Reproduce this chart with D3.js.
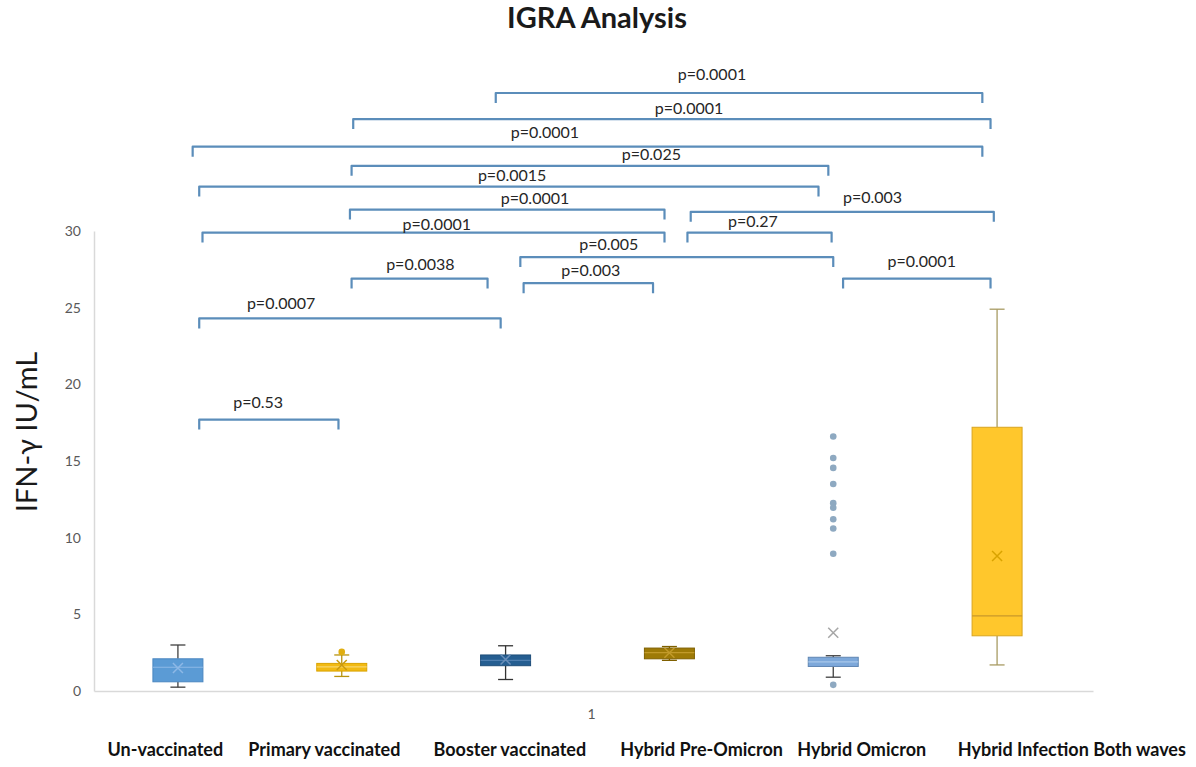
<!DOCTYPE html>
<html><head><meta charset="utf-8">
<script src="https://cdn.jsdelivr.net/npm/d3@7"></script>
<style>body{margin:0;background:#fff}svg{display:block}</style>
</head><body>
<svg id="c" width="1196" height="767"></svg>
<script>
// ---- data ----
const groups = ["Un-vaccinated","Primary vaccinated","Booster vaccinated","Hybrid Pre-Omicron","Hybrid Omicron","Hybrid Infection Both waves"];
const mins    = [0.25, 0.95, 0.75, 2.0, 0.9, 1.7];
const q1s     = [0.6, 1.3, 1.65, 2.1, 1.6, 3.6];
const medians = [1.55, 1.57, 2.0, 2.5, 1.9, 4.9];
const q3s     = [2.1, 1.8, 2.35, 2.8, 2.2, 17.2];
const maxs    = [3.0, 2.35, 2.95, 2.9, 2.3, 24.9];
const means   = [1.5, 1.7, 2.05, 2.5, 3.8, 8.8];
const outliers = [[], [2.55], [], [], [16.6, 15.2, 14.55, 13.5, 12.25, 11.95, 11.2, 10.6, 8.95, 0.4], []];
const yTicks = [0, 5, 10, 15, 20, 25, 30];
const categoryLabel = "1";
// significance brackets (ends in group-index units, level in IFN-γ units)
const bracketLabels = ["p=0.0001","p=0.0001","p=0.0001","p=0.025","p=0.0015","p=0.0001","p=0.003","p=0.0001","p=0.27","p=0.005","p=0.003","p=0.0038","p=0.0007","p=0.53","p=0.0001"];
const bracketFrom   = [1.94, 1.07, 0.09, 1.06, 0.13, 1.05, 3.13, 0.15, 3.11, 2.09, 2.11, 1.06, 0.13, 0.13, 4.06];
const bracketTo     = [4.91, 4.96, 4.91, 3.97, 3.91, 2.97, 4.98, 2.97, 3.99, 4.00, 2.90, 1.89, 1.97, 0.98, 4.96];
const bracketLevel  = [39.0, 37.3, 35.5, 34.25, 32.9, 31.4, 31.25, 29.9, 29.9, 28.3, 26.6, 26.9, 24.3, 17.7, 26.9];
const labelAt       = [3.26, 3.12, 2.24, 2.89, 2.04, 2.18, 4.24, 1.58, 3.51, 2.63, 2.52, 1.48, 0.63, 0.49, 4.54];
const labelLevel    = [40.1, 37.9, 36.3, 34.9, 33.5, 32.0, 32.1, 30.3, 30.5, 29.0, 27.3, 27.7, 25.2, 18.7, 27.9];
const groupLabelAt  = [-0.43, 0.43, 1.56, 2.7, 3.78, 4.76];

// ---- styles ----
const fills   = ["#5B9BD5","#F2BA12","#255E91","#9E7A06","#7DA8DA","#FFC72C"];
const strokes = ["#4A86C0","#D9A300","#1F4E79","#7F6000","#5F86B3","#D9A520"];
const whisk   = ["#404040","#B8930F","#333333","#7F6000","#404040","#A89B63"];
const medCol  = ["#8DB8E6","#F8D66A","#4F7FB0","#C29A2A","#A9C7EA","#C9982A"];
const meanCol = ["#8DB8E6","#C99A10","#6A8EB8","#C29A2A","#A6A6A6","#D9A300"];
const outCol  = ["#5B9BD5","#E0AE10","#255E91","#9E7A06","#8EA9C1","#FFC72C"];

const svg = d3.select("#c");
const font = "Lato, 'Open Sans', sans-serif";

const x = d3.scaleBand().domain(groups).range([96, 1079]);
const gx = d3.scaleLinear().domain([0, groups.length - 1])
  .range([x(groups[0]) + x.bandwidth()/2, x(groups[groups.length-1]) + x.bandwidth()/2]);
const y = d3.scaleLinear().domain([0, 30]).range([691, 231]);
const plotLeft = 94, plotRight = 1093;

// title
svg.append("text").attr("x", 597).attr("y", 21).attr("text-anchor","middle")
  .attr("dominant-baseline","middle").attr("font-family", font).attr("font-weight","bold")
  .attr("font-size", 29).attr("fill","#1a1a1a").text("IGRA Analysis");

// y axis
const yAxis = d3.axisLeft(y).tickValues(yTicks).tickSize(0).tickPadding(13);
const gy = svg.append("g").attr("transform", `translate(${plotLeft},0)`).call(yAxis);
gy.select(".domain").attr("stroke","#D9D9D9").attr("stroke-width",1.5);
gy.selectAll("text").attr("font-family", font).attr("font-size", 14).attr("fill","#595959");

// x axis
const xAxis = d3.axisBottom(d3.scaleLinear().domain([0,1]).range([plotLeft, plotRight])).tickValues([]).tickSize(0);
const gxa = svg.append("g").attr("transform", `translate(0,${y(0)})`).call(xAxis);
gxa.select(".domain").attr("stroke","#D9D9D9").attr("stroke-width",1.5);
svg.append("text").attr("x", (plotLeft + plotRight)/2 - 2).attr("y", 715).attr("text-anchor","middle")
  .attr("dominant-baseline","middle").attr("font-family", font).attr("font-size", 14).attr("fill","#595959").text(categoryLabel);

// y title
svg.append("text").attr("transform", `translate(30,432) rotate(-90)`).attr("text-anchor","middle")
  .attr("dominant-baseline","middle").attr("font-family", font).attr("font-size", 29).attr("fill","#1a1a1a")
  .text("IFN-γ IU/mL");

// boxes
const bw = 50, cap = 15;
groups.forEach((g, i) => {
  const cx = x(g) + x.bandwidth()/2;
  const G = svg.append("g");
  G.append("line").attr("x1",cx).attr("x2",cx).attr("y1",y(maxs[i])).attr("y2",y(q3s[i])).attr("stroke",whisk[i]).attr("stroke-width",1.3);
  G.append("line").attr("x1",cx).attr("x2",cx).attr("y1",y(q1s[i])).attr("y2",y(mins[i])).attr("stroke",whisk[i]).attr("stroke-width",1.3);
  G.append("line").attr("x1",cx-cap/2).attr("x2",cx+cap/2).attr("y1",y(maxs[i])).attr("y2",y(maxs[i])).attr("stroke",whisk[i]).attr("stroke-width",1.3);
  G.append("line").attr("x1",cx-cap/2).attr("x2",cx+cap/2).attr("y1",y(mins[i])).attr("y2",y(mins[i])).attr("stroke",whisk[i]).attr("stroke-width",1.3);
  G.append("rect").attr("x",cx-bw/2).attr("width",bw).attr("y",y(q3s[i])).attr("height",y(q1s[i])-y(q3s[i]))
    .attr("fill",fills[i]).attr("stroke",strokes[i]).attr("stroke-width",1);
  G.append("line").attr("x1",cx-bw/2).attr("x2",cx+bw/2).attr("y1",y(medians[i])).attr("y2",y(medians[i])).attr("stroke",medCol[i]).attr("stroke-width",1.2);
  const my = y(means[i]), s = 5;
  G.append("path").attr("d",`M${cx-s},${my-s}L${cx+s},${my+s}M${cx-s},${my+s}L${cx+s},${my-s}`)
    .attr("stroke",meanCol[i]).attr("stroke-width",1.5).attr("fill","none");
  G.selectAll("circle").data(outliers[i]).join("circle").attr("cx",cx).attr("cy",d=>y(d)).attr("r",3.3).attr("fill",outCol[i]);
});

// brackets
const bc = "#5B8DBA";
bracketLabels.forEach((lab, i) => {
  const x1 = gx(bracketFrom[i]), x2 = gx(bracketTo[i]), yy = y(bracketLevel[i]);
  svg.append("path").attr("d",`M${x1},${yy+10}L${x1},${yy}L${x2},${yy}L${x2},${yy+10}`)
    .attr("fill","none").attr("stroke",bc).attr("stroke-width",2.2).attr("stroke-linejoin","round");
  svg.append("text").attr("x",gx(labelAt[i])).attr("y",y(labelLevel[i])).attr("text-anchor","middle")
    .attr("dominant-baseline","middle").attr("font-family",font).attr("font-size",16).attr("fill","#262626").text(lab);
});

// group labels
groups.forEach((g, i) => {
  svg.append("text").attr("x", gx(groupLabelAt[i])).attr("y", 751).attr("dominant-baseline","middle")
    .attr("font-family", font).attr("font-weight","bold").attr("font-size", 18).attr("fill","#111").text(g);
});
</script>
</body></html>
